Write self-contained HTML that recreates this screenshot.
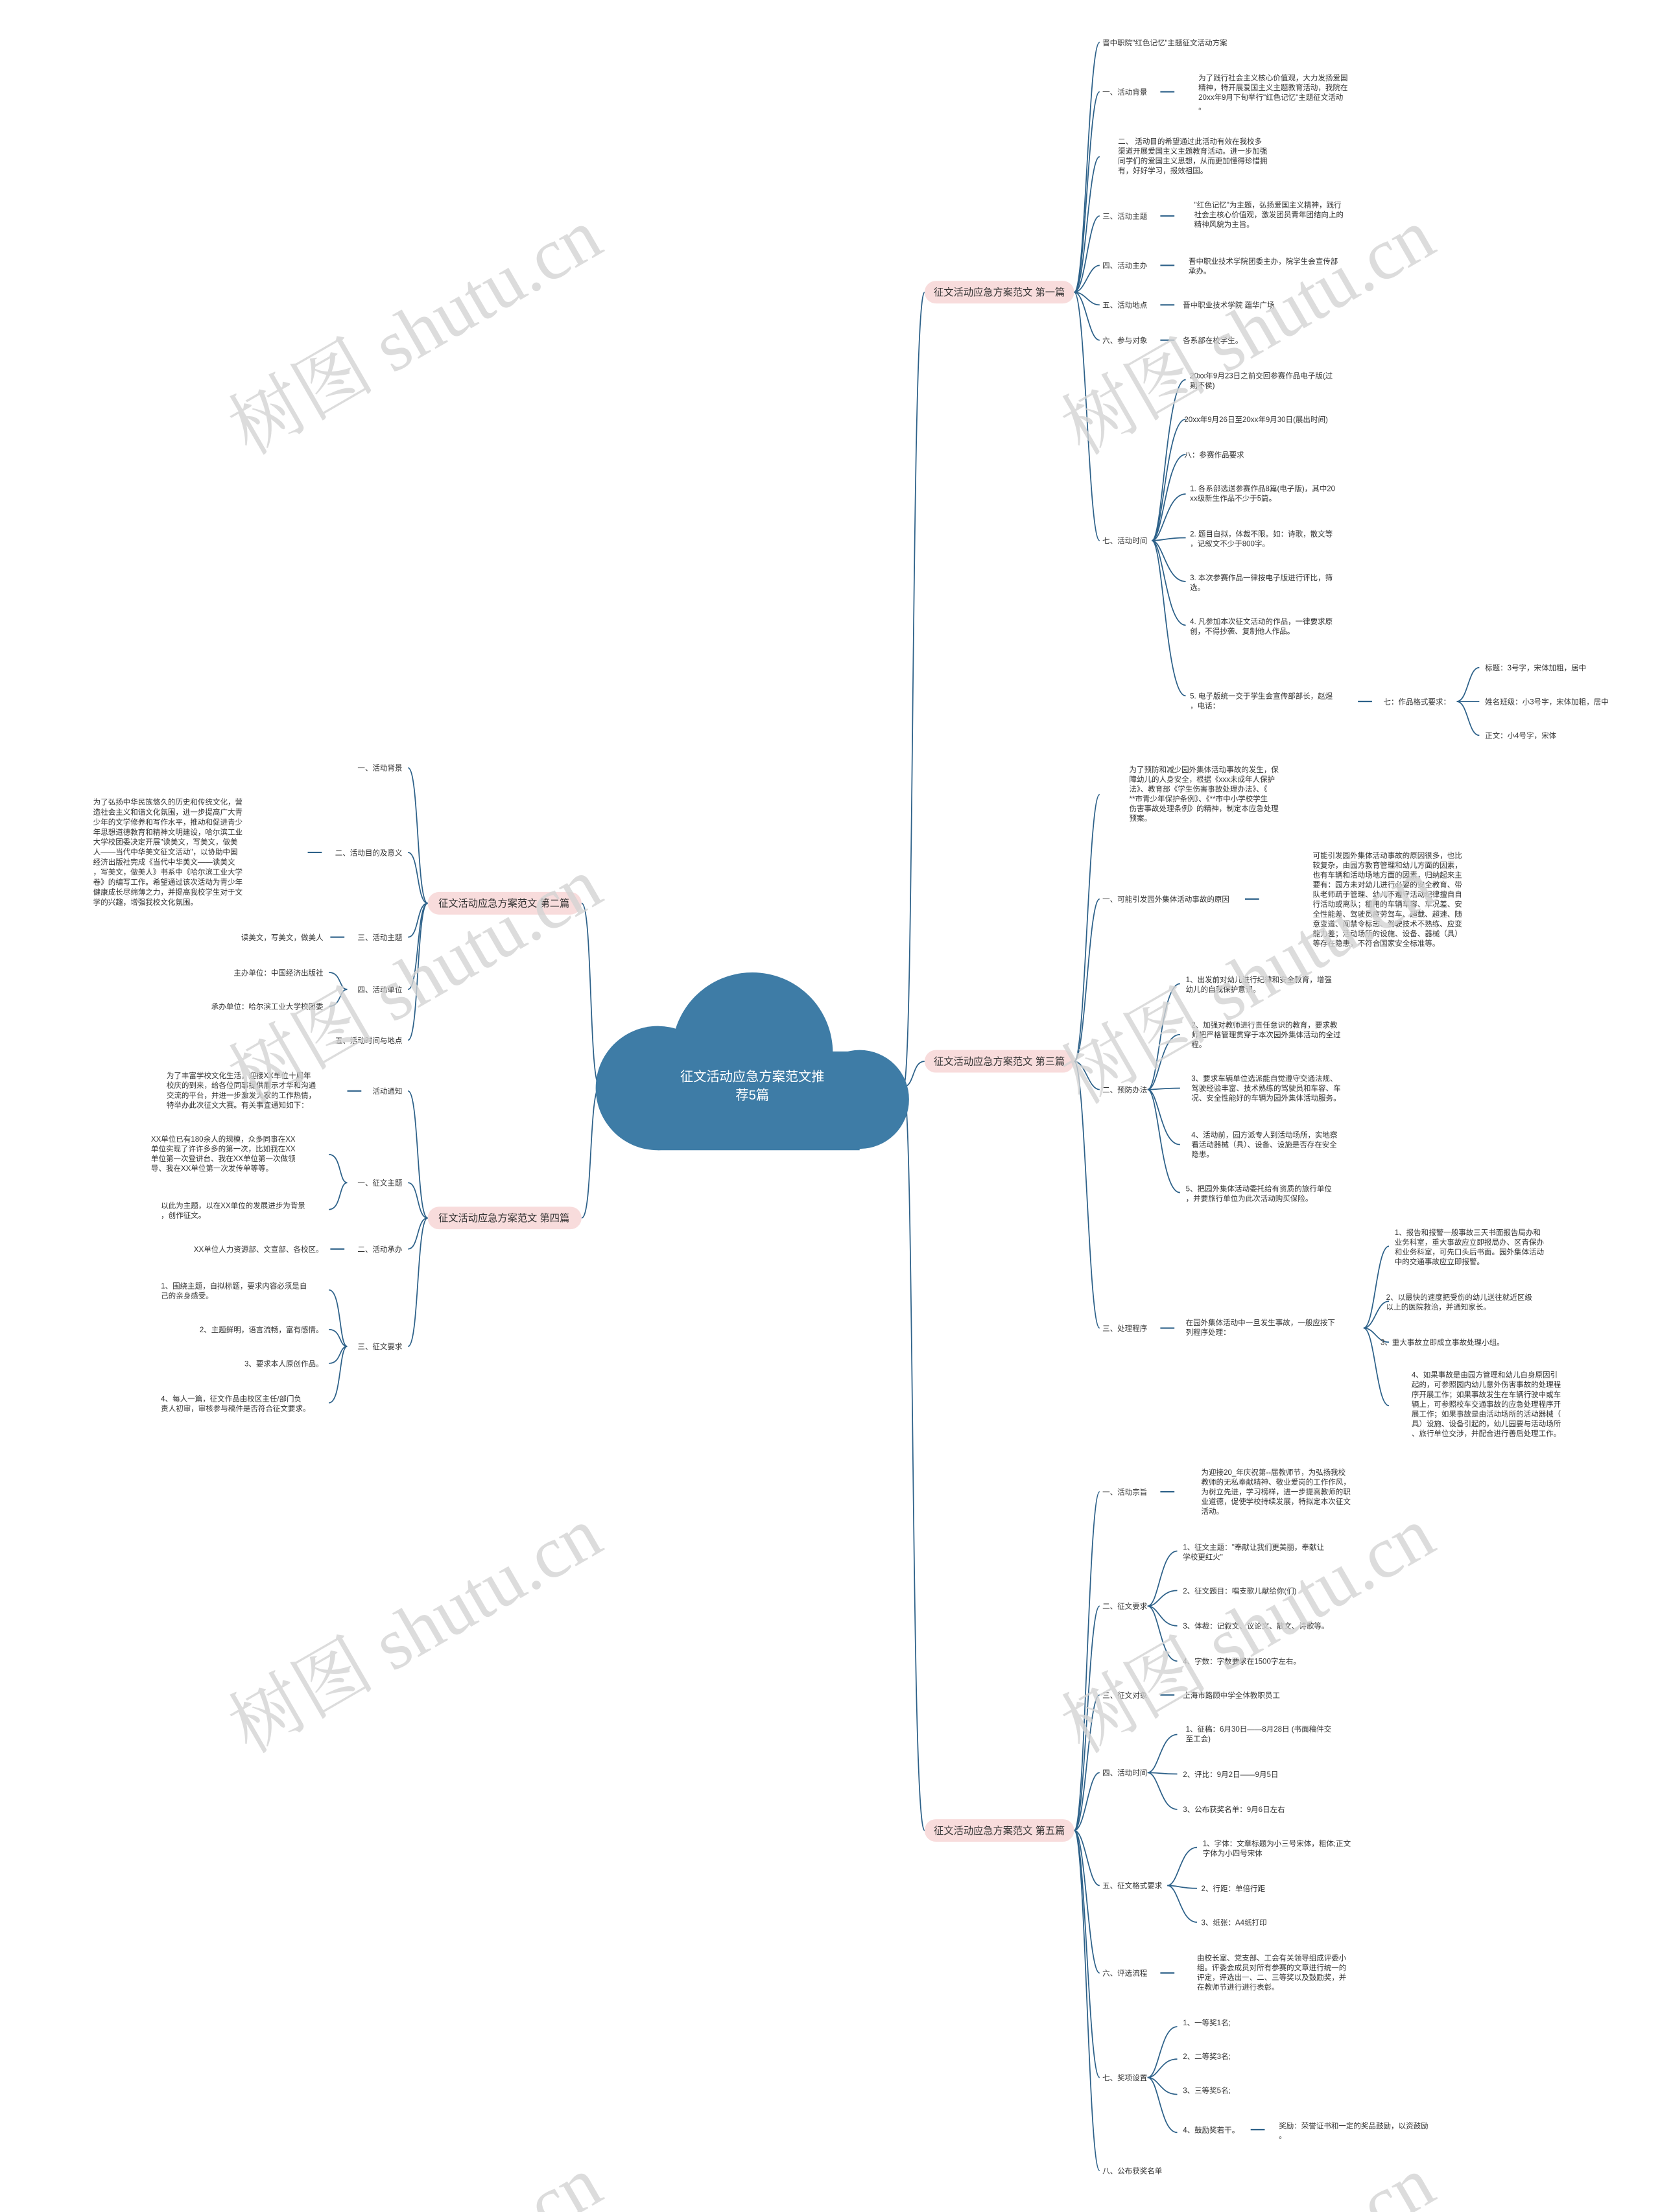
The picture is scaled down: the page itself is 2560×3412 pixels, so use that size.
<!DOCTYPE html>
<html><head><meta charset="utf-8"><style>
html,body{margin:0;padding:0;background:#fff;width:2560px;height:3412px;overflow:hidden;}
svg{display:block;}
text{font-family:"Liberation Sans","Noto Sans CJK SC",sans-serif;}
.t{font-size:5.3px;fill:#333;}
.n{font-size:7px;fill:#333;}
.l{fill:none;stroke:#2d6189;stroke-width:0.8;}
.d{stroke:#2d6189;stroke-width:1;}
.w{font-family:"Liberation Serif","Noto Serif CJK SC",serif;font-size:52px;fill:#d4d4d4;opacity:0.8;}
</style></head><body>
<svg width="2560" height="3412" viewBox="0 0 1176 1567.3" xmlns="http://www.w3.org/2000/svg" overflow="hidden">
<rect width="1176" height="1568" fill="#fff"/>

<path class="l" d="M640,770 C648,770 645,207 655,207"/>
<path class="l" d="M640,770 C648,770 646,752 655,752"/>
<path class="l" d="M640,770 C648,770 645,1297 655,1297"/>
<path class="l" d="M425,770 C417,770 420,640 412,640"/>
<path class="l" d="M425,770 C417,770 420,863 412,863"/>

<g fill="#3e7ca6">
<circle cx="533" cy="746" r="57"/>
<circle cx="466" cy="771" r="44"/>
<circle cx="609" cy="779" r="35"/>
<rect x="466" y="745" width="143" height="70"/>
</g>
<text x="533" y="766" text-anchor="middle" style="font-size:9.3px;fill:#fff">征文活动应急方案范文推</text>
<text x="533" y="779" text-anchor="middle" style="font-size:9.3px;fill:#fff">荐5篇</text>

<rect x="655" y="199" width="106" height="16" rx="8" fill="#f8dcdc"/>
<text class="n" x="708" y="209.5" text-anchor="middle">征文活动应急方案范文 第一篇</text>
<rect x="655" y="744" width="106" height="16" rx="8" fill="#f8dcdc"/>
<text class="n" x="708" y="754.5" text-anchor="middle">征文活动应急方案范文 第三篇</text>
<rect x="655" y="1289" width="106" height="16" rx="8" fill="#f8dcdc"/>
<text class="n" x="708" y="1299.5" text-anchor="middle">征文活动应急方案范文 第五篇</text>
<rect x="303" y="632" width="109" height="16" rx="8" fill="#f8dcdc"/>
<text class="n" x="357" y="642.5" text-anchor="middle">征文活动应急方案范文 第二篇</text>
<rect x="303" y="855" width="109" height="16" rx="8" fill="#f8dcdc"/>
<text class="n" x="357" y="865.5" text-anchor="middle">征文活动应急方案范文 第四篇</text>

<g>
<path class="l" d="M761,207 C769,207 771,30 779,30"/>
<path class="l" d="M761,207 C769,207 771,65 779,65"/>
<path class="l" d="M761,207 C769,207 771,111 779,111"/>
<path class="l" d="M761,207 C769,207 771,153 779,153"/>
<path class="l" d="M761,207 C769,207 771,188 779,188"/>
<path class="l" d="M761,207 C769,207 771,216 779,216"/>
<path class="l" d="M761,207 C769,207 771,241 779,241"/>
<path class="l" d="M761,207 C769,207 771,383 779,383"/>
<text class="t" x="781" y="32">晋中职院"红色记忆"主题征文活动方案</text>
<text class="t" x="781" y="67">一、活动背景</text>
<line class="d" x1="822" y1="65" x2="832" y2="65"/>
<text class="t" x="849" y="57">为了践行社会主义核心价值观，大力发扬爱国<tspan x="849" dy="6.9">精神，特开展爱国主义主题教育活动，我院在</tspan><tspan x="849" dy="6.9">20xx年9月下旬举行"红色记忆"主题征文活动</tspan><tspan x="849" dy="6.9">。</tspan></text>
<text class="t" x="792" y="102">二、 活动目的希望通过此活动有效在我校多<tspan x="792" dy="6.9">渠道开展爱国主义主题教育活动。进一步加强</tspan><tspan x="792" dy="6.9">同学们的爱国主义思想，从而更加懂得珍惜拥</tspan><tspan x="792" dy="6.9">有，好好学习，报效祖国。</tspan></text>
<text class="t" x="781" y="155">三、活动主题</text>
<line class="d" x1="822" y1="153" x2="832" y2="153"/>
<text class="t" x="846" y="147">"红色记忆"为主题，弘扬爱国主义精神，践行<tspan x="846" dy="6.9">社会主核心价值观，激发团员青年团结向上的</tspan><tspan x="846" dy="6.9">精神风貌为主旨。</tspan></text>
<text class="t" x="781" y="190">四、活动主办</text>
<line class="d" x1="822" y1="188" x2="832" y2="188"/>
<text class="t" x="842" y="187">晋中职业技术学院团委主办，院学生会宣传部<tspan x="842" dy="6.9">承办。</tspan></text>
<text class="t" x="781" y="218">五、活动地点</text>
<line class="d" x1="822" y1="216" x2="832" y2="216"/>
<text class="t" x="838" y="218">晋中职业技术学院 蕴华广场</text>
<text class="t" x="781" y="243">六、参与对象</text>
<line class="d" x1="822" y1="241" x2="832" y2="241"/>
<text class="t" x="838" y="243">各系部在校学生。</text>
<text class="t" x="781" y="385">七、活动时间</text>
<path class="l" d="M816,383 C824,383 826,269 840,269"/>
<path class="l" d="M816,383 C824,383 826,297 840,297"/>
<path class="l" d="M816,383 C824,383 826,322 840,322"/>
<path class="l" d="M816,383 C824,383 826,350 840,350"/>
<path class="l" d="M816,383 C824,383 826,381 840,381"/>
<path class="l" d="M816,383 C824,383 826,412 840,412"/>
<path class="l" d="M816,383 C824,383 826,443 840,443"/>
<path class="l" d="M816,383 C824,383 826,493 840,493"/>
<text class="t" x="843" y="268">20xx年9月23日之前交回参赛作品电子版(过<tspan x="843" dy="6.9">期不侯)</tspan></text>
<text class="t" x="839" y="299">20xx年9月26日至20xx年9月30日(展出时间)</text>
<text class="t" x="839" y="324">八：参赛作品要求</text>
<text class="t" x="843" y="348">1. 各系部选送参赛作品8篇(电子版)，其中20<tspan x="843" dy="6.9">xx级新生作品不少于5篇。</tspan></text>
<text class="t" x="843" y="380">2. 题目自拟，体裁不限。如：诗歌，散文等<tspan x="843" dy="6.9">，记叙文不少于800字。</tspan></text>
<text class="t" x="843" y="411">3. 本次参赛作品一律按电子版进行评比，筛<tspan x="843" dy="6.9">选。</tspan></text>
<text class="t" x="843" y="442">4. 凡参加本次征文活动的作品，一律要求原<tspan x="843" dy="6.9">创，不得抄袭、复制他人作品。</tspan></text>
<text class="t" x="843" y="495">5. 电子版统一交于学生会宣传部部长，赵煜<tspan x="843" dy="6.9">，电话：</tspan></text>
<line class="d" x1="962" y1="497" x2="972" y2="497"/>
<text class="t" x="980" y="499">七：作品格式要求：</text>
<path class="l" d="M1032,497 C1040,497 1040,473 1048,473"/>
<path class="l" d="M1032,497 C1040,497 1040,497 1048,497"/>
<path class="l" d="M1032,497 C1040,497 1040,521 1048,521"/>
<text class="t" x="1052" y="475">标题：3号字，宋体加粗，居中</text>
<text class="t" x="1052" y="499">姓名班级：小3号字，宋体加粗，居中</text>
<text class="t" x="1052" y="523">正文：小4号字，宋体</text>
</g>

<g>
<path class="l" d="M761,752 C769,752 771,563 779,563"/>
<path class="l" d="M761,752 C769,752 771,637 779,637"/>
<path class="l" d="M761,752 C769,752 771,772 779,772"/>
<path class="l" d="M761,752 C769,752 771,941 779,941"/>
<text class="t" x="800" y="547">为了预防和减少园外集体活动事故的发生，保<tspan x="800" dy="6.9">障幼儿的人身安全，根据《xxx未成年人保护</tspan><tspan x="800" dy="6.9">法》、教育部《学生伤害事故处理办法》、《</tspan><tspan x="800" dy="6.9">**市青少年保护条例》、《**市中小学校学生</tspan><tspan x="800" dy="6.9">伤害事故处理条例》的精神，制定本应急处理</tspan><tspan x="800" dy="6.9">预案。</tspan></text>
<text class="t" x="781" y="639">一、可能引发园外集体活动事故的原因</text>
<line class="d" x1="882" y1="637" x2="892" y2="637"/>
<text class="t" x="930" y="608">可能引发园外集体活动事故的原因很多，也比<tspan x="930" dy="6.9">较复杂，由园方教育管理和幼儿方面的因素，</tspan><tspan x="930" dy="6.9">也有车辆和活动场地方面的因素，归纳起来主</tspan><tspan x="930" dy="6.9">要有：园方未对幼儿进行必要的安全教育、带</tspan><tspan x="930" dy="6.9">队老师疏于管理、幼儿不遵守活动纪律擅自自</tspan><tspan x="930" dy="6.9">行活动或离队；租用的车辆车容、车况差、安</tspan><tspan x="930" dy="6.9">全性能差、驾驶员疲劳驾车、超载、超速、随</tspan><tspan x="930" dy="6.9">意变道、闯禁令标志、驾驶技术不熟练、应变</tspan><tspan x="930" dy="6.9">能力差；活动场所的设施、设备、器械（具）</tspan><tspan x="930" dy="6.9">等存在隐患，不符合国家安全标准等。</tspan></text>
<text class="t" x="781" y="774">二、预防办法</text>
<path class="l" d="M813,772 C821,772 822,697 836,697"/>
<path class="l" d="M813,772 C821,772 822,733 836,733"/>
<path class="l" d="M813,772 C821,772 822,771 836,771"/>
<path class="l" d="M813,772 C821,772 822,811 836,811"/>
<path class="l" d="M813,772 C821,772 822,845 836,845"/>
<text class="t" x="840" y="696">1、出发前对幼儿进行纪律和安全教育，增强<tspan x="840" dy="6.9">幼儿的自我保护意识。</tspan></text>
<text class="t" x="844" y="728">2、加强对教师进行责任意识的教育，要求教<tspan x="844" dy="6.9">师把严格管理贯穿于本次园外集体活动的全过</tspan><tspan x="844" dy="6.9">程。</tspan></text>
<text class="t" x="844" y="766">3、要求车辆单位选派能自觉遵守交通法规、<tspan x="844" dy="6.9">驾驶经验丰富、技术熟练的驾驶员和车容、车</tspan><tspan x="844" dy="6.9">况、安全性能好的车辆为园外集体活动服务。</tspan></text>
<text class="t" x="844" y="806">4、活动前，园方派专人到活动场所，实地察<tspan x="844" dy="6.9">看活动器械（具）、设备、设施是否存在安全</tspan><tspan x="844" dy="6.9">隐患。</tspan></text>
<text class="t" x="840" y="844">5、把园外集体活动委托给有资质的旅行单位<tspan x="840" dy="6.9">，并要旅行单位为此次活动购买保险。</tspan></text>
<text class="t" x="781" y="943">三、处理程序</text>
<line class="d" x1="822" y1="941" x2="832" y2="941"/>
<text class="t" x="840" y="939">在园外集体活动中一旦发生事故，一般应按下<tspan x="840" dy="6.9">列程序处理：</tspan></text>
<path class="l" d="M966,941 C974,941 975,883 984,883"/>
<path class="l" d="M966,941 C974,941 975,922 984,922"/>
<path class="l" d="M966,941 C974,941 975,951 984,951"/>
<path class="l" d="M966,941 C974,941 975,996 984,996"/>
<text class="t" x="988" y="875">1、报告和报警一般事故三天书面报告局办和<tspan x="988" dy="6.9">业务科室，重大事故应立即报局办、区青保办</tspan><tspan x="988" dy="6.9">和业务科室，可先口头后书面。园外集体活动</tspan><tspan x="988" dy="6.9">中的交通事故应立即报警。</tspan></text>
<text class="t" x="982" y="921">2、以最快的速度把受伤的幼儿送往就近区级<tspan x="982" dy="6.9">以上的医院救治，并通知家长。</tspan></text>
<text class="t" x="978" y="953">3、重大事故立即成立事故处理小组。</text>
<text class="t" x="1000" y="976">4、如果事故是由园方管理和幼儿自身原因引<tspan x="1000" dy="6.9">起的，可参照园内幼儿意外伤害事故的处理程</tspan><tspan x="1000" dy="6.9">序开展工作；如果事故发生在车辆行驶中或车</tspan><tspan x="1000" dy="6.9">辆上，可参照校车交通事故的应急处理程序开</tspan><tspan x="1000" dy="6.9">展工作；如果事故是由活动场所的活动器械（</tspan><tspan x="1000" dy="6.9">具）设施、设备引起的，幼儿园要与活动场所</tspan><tspan x="1000" dy="6.9">、旅行单位交涉，并配合进行善后处理工作。</tspan></text>
</g>

<g>
<path class="l" d="M761,1297 C769,1297 771,1057 779,1057"/>
<path class="l" d="M761,1297 C769,1297 771,1138 779,1138"/>
<path class="l" d="M761,1297 C769,1297 771,1201 779,1201"/>
<path class="l" d="M761,1297 C769,1297 771,1256 779,1256"/>
<path class="l" d="M761,1297 C769,1297 771,1336 779,1336"/>
<path class="l" d="M761,1297 C769,1297 771,1398 779,1398"/>
<path class="l" d="M761,1297 C769,1297 771,1472 779,1472"/>
<path class="l" d="M761,1297 C769,1297 771,1538 779,1538"/>
<text class="t" x="781" y="1059">一、活动宗旨</text>
<line class="d" x1="822" y1="1057" x2="832" y2="1057"/>
<text class="t" x="851" y="1045">为迎接20_年庆祝第--届教师节，为弘扬我校<tspan x="851" dy="6.9">教师的无私奉献精神、敬业爱岗的工作作风，</tspan><tspan x="851" dy="6.9">为树立先进，学习榜样，进一步提高教师的职</tspan><tspan x="851" dy="6.9">业道德，促使学校持续发展，特拟定本次征文</tspan><tspan x="851" dy="6.9">活动。</tspan></text>
<text class="t" x="781" y="1140">二、征文要求</text>
<path class="l" d="M813,1138 C821,1138 822,1099 834,1099"/>
<path class="l" d="M813,1138 C821,1138 822,1127 834,1127"/>
<path class="l" d="M813,1138 C821,1138 822,1152 834,1152"/>
<path class="l" d="M813,1138 C821,1138 822,1177 834,1177"/>
<text class="t" x="838" y="1098">1、征文主题："奉献让我们更美丽，奉献让<tspan x="838" dy="6.9">学校更红火"</tspan></text>
<text class="t" x="838" y="1129">2、征文题目：唱支歌儿献给你(们)</text>
<text class="t" x="838" y="1154">3、体裁：记叙文、议论文、散文、诗歌等。</text>
<text class="t" x="838" y="1179">4、字数：字数要求在1500字左右。</text>
<text class="t" x="781" y="1203">三、征文对象</text>
<line class="d" x1="822" y1="1201" x2="832" y2="1201"/>
<text class="t" x="838" y="1203">上海市路顾中学全体教职员工</text>
<text class="t" x="781" y="1258">四、活动时间</text>
<path class="l" d="M813,1256 C821,1256 822,1229 834,1229"/>
<path class="l" d="M813,1256 C821,1256 822,1257 834,1257"/>
<path class="l" d="M813,1256 C821,1256 822,1282 834,1282"/>
<text class="t" x="840" y="1227">1、征稿：6月30日——8月28日 (书面稿件交<tspan x="840" dy="6.9">至工会)</tspan></text>
<text class="t" x="838" y="1259">2、评比：9月2日——9月5日</text>
<text class="t" x="838" y="1284">3、公布获奖名单：9月6日左右</text>
<text class="t" x="781" y="1338">五、征文格式要求</text>
<path class="l" d="M827,1336 C835,1336 836,1309 848,1309"/>
<path class="l" d="M827,1336 C835,1336 836,1338 848,1338"/>
<path class="l" d="M827,1336 C835,1336 836,1362 848,1362"/>
<text class="t" x="852" y="1308">1、字体：文章标题为小三号宋体，粗体;正文<tspan x="852" dy="6.9">字体为小四号宋体</tspan></text>
<text class="t" x="851" y="1340">2、行距：单倍行距</text>
<text class="t" x="851" y="1364">3、纸张：A4纸打印</text>
<text class="t" x="781" y="1400">六、评选流程</text>
<line class="d" x1="822" y1="1398" x2="832" y2="1398"/>
<text class="t" x="848" y="1389">由校长室、党支部、工会有关领导组成评委小<tspan x="848" dy="6.9">组。评委会成员对所有参赛的文章进行统一的</tspan><tspan x="848" dy="6.9">评定，评选出一、二、三等奖以及鼓励奖，并</tspan><tspan x="848" dy="6.9">在教师节进行进行表彰。</tspan></text>
<text class="t" x="781" y="1474">七、奖项设置</text>
<path class="l" d="M813,1472 C821,1472 822,1436 834,1436"/>
<path class="l" d="M813,1472 C821,1472 822,1459 834,1459"/>
<path class="l" d="M813,1472 C821,1472 822,1484 834,1484"/>
<path class="l" d="M813,1472 C821,1472 822,1511 834,1511"/>
<text class="t" x="838" y="1435">1、一等奖1名;</text>
<text class="t" x="838" y="1459">2、二等奖3名;</text>
<text class="t" x="838" y="1483">3、三等奖5名;</text>
<text class="t" x="838" y="1511">4、鼓励奖若干。</text>
<line class="d" x1="886" y1="1509" x2="896" y2="1509"/>
<text class="t" x="906" y="1508">奖励：荣誉证书和一定的奖品鼓励，以资鼓励<tspan x="906" dy="6.9">。</tspan></text>
<text class="t" x="781" y="1540">八、公布获奖名单</text>
</g>

<g>
<path class="l" d="M303,640 C295,640 297,544 289,544"/>
<path class="l" d="M303,640 C295,640 297,604 289,604"/>
<path class="l" d="M303,640 C295,640 297,664 289,664"/>
<path class="l" d="M303,640 C295,640 297,701 289,701"/>
<path class="l" d="M303,640 C295,640 297,737 289,737"/>
<text class="t" x="285" y="546" text-anchor="end">一、活动背景</text>
<text class="t" x="285" y="606" text-anchor="end">二、活动目的及意义</text>
<line class="d" x1="218" y1="604" x2="228" y2="604"/>
<text class="t" x="66" y="570">为了弘扬中华民族悠久的历史和传统文化，营<tspan x="66" dy="7.1">造社会主义和谐文化氛围，进一步提高广大青</tspan><tspan x="66" dy="7.1">少年的文学修养和写作水平，推动和促进青少</tspan><tspan x="66" dy="7.1">年思想道德教育和精神文明建设，哈尔滨工业</tspan><tspan x="66" dy="7.1">大学校团委决定开展"读美文，写美文，做美</tspan><tspan x="66" dy="7.1">人——当代中华美文征文活动"，以协助中国</tspan><tspan x="66" dy="7.1">经济出版社完成《当代中华美文——读美文</tspan><tspan x="66" dy="7.1">，写美文，做美人》书系中《哈尔滨工业大学</tspan><tspan x="66" dy="7.1">卷》的编写工作。希望通过该次活动为青少年</tspan><tspan x="66" dy="7.1">健康成长尽绵薄之力，并提高我校学生对于文</tspan><tspan x="66" dy="7.1">学的兴趣，增强我校文化氛围。</tspan></text>
<text class="t" x="285" y="666" text-anchor="end">三、活动主题</text>
<line class="d" x1="234" y1="664" x2="244" y2="664"/>
<text class="t" x="229" y="666" text-anchor="end">读美文，写美文，做美人</text>
<text class="t" x="285" y="703" text-anchor="end">四、活动单位</text>
<path class="l" d="M246,701 C240,701 242,689 233,689"/>
<path class="l" d="M246,701 C240,701 242,713 233,713"/>
<text class="t" x="229" y="691" text-anchor="end">主办单位：中国经济出版社</text>
<text class="t" x="229" y="715" text-anchor="end">承办单位：哈尔滨工业大学校团委</text>
<text class="t" x="285" y="739" text-anchor="end">五、活动时间与地点</text>
</g>

<g>
<path class="l" d="M303,863 C295,863 297,773 289,773"/>
<path class="l" d="M303,863 C295,863 297,838 289,838"/>
<path class="l" d="M303,863 C295,863 297,885 289,885"/>
<path class="l" d="M303,863 C295,863 297,954 289,954"/>
<text class="t" x="285" y="775" text-anchor="end">活动通知</text>
<line class="d" x1="246" y1="773" x2="256" y2="773"/>
<text class="t" x="118" y="764">为了丰富学校文化生活，迎接XX单位十周年<tspan x="118" dy="6.9">校庆的到来，给各位同事提供展示才华和沟通</tspan><tspan x="118" dy="6.9">交流的平台，并进一步激发大家的工作热情，</tspan><tspan x="118" dy="6.9">特举办此次征文大赛。有关事宜通知如下：</tspan></text>
<text class="t" x="285" y="840" text-anchor="end">一、征文主题</text>
<path class="l" d="M246,838 C240,838 242,818 233,818"/>
<path class="l" d="M246,838 C240,838 242,857 233,857"/>
<text class="t" x="107" y="809">XX单位已有180余人的规模，众多同事在XX<tspan x="107" dy="6.9">单位实现了许许多多的第一次，比如我在XX</tspan><tspan x="107" dy="6.9">单位第一次登讲台、我在XX单位第一次做领</tspan><tspan x="107" dy="6.9">导、我在XX单位第一次发传单等等。</tspan></text>
<text class="t" x="114" y="856">以此为主题，以在XX单位的发展进步为背景<tspan x="114" dy="6.9">，创作征文。</tspan></text>
<text class="t" x="285" y="887" text-anchor="end">二、活动承办</text>
<line class="d" x1="234" y1="885" x2="244" y2="885"/>
<text class="t" x="229" y="887" text-anchor="end">XX单位人力资源部、文宣部、各校区。</text>
<text class="t" x="285" y="956" text-anchor="end">三、征文要求</text>
<path class="l" d="M246,954 C240,954 242,914 233,914"/>
<path class="l" d="M246,954 C240,954 242,942 233,942"/>
<path class="l" d="M246,954 C240,954 242,966 233,966"/>
<path class="l" d="M246,954 C240,954 242,994 233,994"/>
<text class="t" x="114" y="913">1、围绕主题，自拟标题，要求内容必须是自<tspan x="114" dy="6.9">己的亲身感受。</tspan></text>
<text class="t" x="229" y="944" text-anchor="end">2、主题鲜明，语言流畅，富有感情。</text>
<text class="t" x="229" y="968" text-anchor="end">3、要求本人原创作品。</text>
<text class="t" x="114" y="993">4、每人一篇，征文作品由校区主任/部门负<tspan x="114" dy="6.9">责人初审，审核参与稿件是否符合征文要求。</tspan></text>
</g>

<g>
<text class="w" transform="translate(297,240) rotate(-30)" text-anchor="middle" dominant-baseline="middle">树图 shutu.cn</text>
<text class="w" transform="translate(887,240) rotate(-30)" text-anchor="middle" dominant-baseline="middle">树图 shutu.cn</text>
<text class="w" transform="translate(297,700) rotate(-30)" text-anchor="middle" dominant-baseline="middle">树图 shutu.cn</text>
<text class="w" transform="translate(887,700) rotate(-30)" text-anchor="middle" dominant-baseline="middle">树图 shutu.cn</text>
<text class="w" transform="translate(297,1160) rotate(-30)" text-anchor="middle" dominant-baseline="middle">树图 shutu.cn</text>
<text class="w" transform="translate(887,1160) rotate(-30)" text-anchor="middle" dominant-baseline="middle">树图 shutu.cn</text>
<text class="w" transform="translate(297,1620) rotate(-30)" text-anchor="middle" dominant-baseline="middle">树图 shutu.cn</text>
<text class="w" transform="translate(887,1620) rotate(-30)" text-anchor="middle" dominant-baseline="middle">树图 shutu.cn</text>
</g>
</svg>
</body></html>
